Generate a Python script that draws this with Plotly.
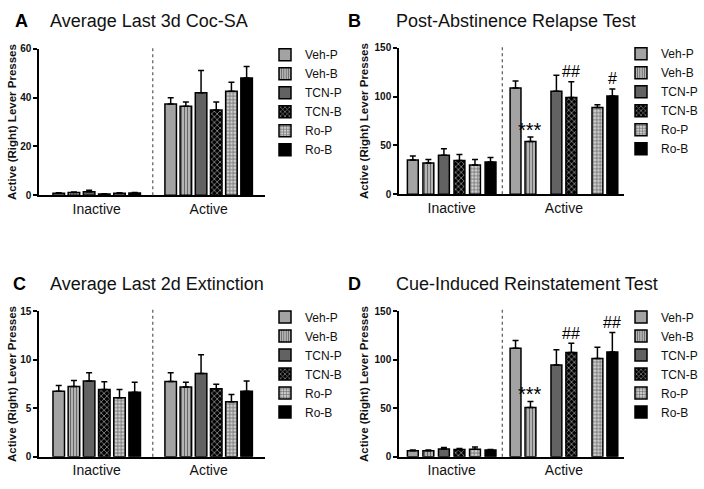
import plotly.graph_objects as go

# ---------------- data ----------------
groups = ["Inactive", "Active"]
series = ["Veh-P", "Veh-B", "TCN-P", "TCN-B", "Ro-P", "Ro-B"]

a_title = "Average Last 3d Coc-SA"
a_inactive = [0.8, 1.1, 1.4, 0.5, 0.8, 0.9]
a_inactive_err = [0.2, 0.2, 0.6, 0.1, 0.2, 0.2]
a_active = [37.4, 36.5, 42.0, 35.0, 42.6, 48.1]
a_active_err = [2.6, 1.7, 9.1, 3.2, 3.7, 4.7]
a_ticks = [0, 20, 40, 60]

b_title = "Post-Abstinence Relapse Test"
b_inactive = [35.0, 32.0, 40.0, 34.7, 30.0, 33.0]
b_inactive_err = [4.3, 3.7, 6.7, 6.0, 5.7, 4.7]
b_active = [109.0, 54.0, 105.7, 99.3, 89.0, 100.7]
b_active_err = [7.0, 4.7, 16.3, 16.0, 2.7, 7.3]
b_sig = ["", "***", "", "##", "", "#"]
b_ticks = [0, 50, 100, 150]

c_title = "Average Last 2d Extinction"
c_inactive = [6.75, 7.25, 7.82, 6.92, 6.08, 6.65]
c_inactive_err = [0.6, 0.6, 0.83, 0.8, 0.84, 1.03]
c_active = [7.75, 7.18, 8.59, 7.02, 5.68, 6.75]
c_active_err = [0.9, 0.5, 1.93, 0.46, 0.73, 1.07]
c_ticks = [0, 5, 10, 15]

d_title = "Cue-Induced Reinstatement Test"
d_inactive = [6.0, 6.2, 8.0, 7.3, 7.6, 6.8]
d_inactive_err = [1.0, 0.8, 1.5, 1.2, 2.4, 0.7]
d_active = [112.0, 50.7, 94.6, 107.4, 101.3, 108.0]
d_active_err = [7.8, 6.3, 15.8, 9.6, 11.5, 20.2]
d_sig = ["", "***", "", "##", "", "##"]
d_ticks = [0, 50, 100, 150]

y_title = "Active (Right) Lever Presses"

# ---------------- styles ----------------
FONT = "Liberation Sans, Arial, sans-serif"
W, H = 704, 489

styles = [
    dict(color="#a3a3a3"),
    dict(color="#b4b4b4", pattern=dict(shape="|", fgcolor="#1a1a1a", bgcolor="#b4b4b4", size=3, solidity=0.35)),
    dict(color="#626262"),
    dict(color="#000000", pattern=dict(shape="x", fgcolor="#ffffff", bgcolor="#000000", size=4, solidity=0.4)),
    dict(color="#d0d0d0", pattern=dict(shape="+", fgcolor="#1a1a1a", bgcolor="#d0d0d0", size=3.5, solidity=0.45)),
    dict(color="#000000"),
]


def even_positions():
    inact = [-2.5 + i for i in range(6)]
    act = [7.37 - 2.5 + i for i in range(6)]
    return inact, act, 7.37, 3.69


def paired_positions():
    inact = [-2.5 + i for i in range(6)]
    centers = [4.59, 7.22, 9.86]
    act = []
    for c in centers:
        act += [c - 0.48, c + 0.48]
    return inact, act, 7.22, 3.26


panels = [
    dict(key="", title=a_title, letter="A", ina=a_inactive, ina_e=a_inactive_err, act=a_active, act_e=a_active_err,
         sig=None, ticks=a_ticks, pos=even_positions(), xr=[-3.8, 11.08], bw=0.76,
         xd=[39, 265], yd=[194, 44], title_y=15, letter_x=13, title_x=48, ytitle_x=12,
         leg=(265, 35)),
    dict(key="2", title=b_title, letter="B", ina=b_inactive, ina_e=b_inactive_err, act=b_active, act_e=b_active_err,
         sig=b_sig, ticks=b_ticks, pos=paired_positions(), xr=[-3.39, 11.09], bw=0.70,
         xd=[399, 624], yd=[193, 43], title_y=15, letter_x=346, title_x=394, ytitle_x=364,
         leg=(621, 34)),
    dict(key="3", title=c_title, letter="C", ina=c_inactive, ina_e=c_inactive_err, act=c_active, act_e=c_active_err,
         sig=None, ticks=c_ticks, pos=even_positions(), xr=[-3.8, 11.08], bw=0.76,
         xd=[39, 265], yd=[462, 313], title_y=285, letter_x=11, title_x=48, ytitle_x=12,
         leg=(265, 304)),
    dict(key="4", title=d_title, letter="D", ina=d_inactive, ina_e=d_inactive_err, act=d_active, act_e=d_active_err,
         sig=d_sig, ticks=d_ticks, pos=paired_positions(), xr=[-3.39, 11.09], bw=0.70,
         xd=[399, 624], yd=[462, 313], title_y=285, letter_x=346, title_x=394, ytitle_x=364,
         leg=(621, 304)),
]

fig = go.Figure()
annotations = []
shapes = []
layout = {}

for p in panels:
    k = p["key"]
    xa, ya = "x" + k, "y" + k
    legname = "legend" + k
    inact_pos, act_pos, act_center, divider = p["pos"]
    for i, name in enumerate(series):
        st = styles[i]
        marker = dict(color=st["color"], line=dict(color="black", width=1.5))
        if "pattern" in st:
            marker["pattern"] = st["pattern"]
        fig.add_trace(go.Bar(
            x=[inact_pos[i], act_pos[i]],
            y=[p["ina"][i], p["act"][i]],
            width=p["bw"],
            name=name,
            marker=marker,
            error_y=dict(type="data", symmetric=False, array=[p["ina_e"][i], p["act_e"][i]],
                         arrayminus=[0, 0], color="black", thickness=1.5, width=3),
            xaxis=xa, yaxis=ya, legend=legname, showlegend=True,
        ))
        if p["sig"] and p["sig"][i]:
            lab = p["sig"][i]
            star = "*" in lab
            annotations.append(dict(
                x=act_pos[i], y=p["act"][i] + p["act_e"][i], xref=xa, yref=ya,
                text=lab, showarrow=False, yanchor="middle", xanchor="center",
                yshift=7 if star else 10,
                font=dict(family=FONT, size=20 if star else 16, color="black"),
            ))

    ymax = p["ticks"][-1]
    layout["xaxis" + k] = dict(
        domain=[p["xd"][0] / W, p["xd"][1] / W], range=p["xr"], anchor=ya,
        showline=True, linecolor="black", linewidth=1.5, ticks="",
        tickvals=[0, act_center], ticktext=groups, ticklabelstandoff=0,
        tickfont=dict(family=FONT, size=14, color="#111"),
        showgrid=False, zeroline=False, fixedrange=True,
    )
    layout["yaxis" + k] = dict(
        domain=[1 - p["yd"][0] / H, 1 - p["yd"][1] / H], range=[0, ymax], anchor=xa,
        showline=True, linecolor="black", linewidth=1.5, ticks="outside", ticklen=4,
        tickwidth=1.5, tickcolor="black", tickvals=p["ticks"],
        tickfont=dict(family=FONT, size=10, color="#111", weight="bold"),
        showgrid=False, zeroline=False, fixedrange=True,
    )
    layout[legname] = dict(
        x=p["leg"][0] / W, y=1 - p["leg"][1] / H, xanchor="left", yanchor="top",
        font=dict(family=FONT, size=12, color="#111"), bgcolor="rgba(0,0,0,0)",
        tracegroupgap=0, itemclick=False, itemdoubleclick=False,
    )
    shapes.append(dict(
        type="line", xref=xa, yref=ya + " domain", x0=divider, x1=divider, y0=0, y1=1.02,
        line=dict(color="#666", width=1.3, dash="dot"),
    ))
    # panel letter and title
    annotations.append(dict(
        x=p["letter_x"] / W, y=1 - p["title_y"] / H, xref="paper", yref="paper",
        text="<b>" + p["letter"] + "</b>", showarrow=False, xanchor="left", yanchor="middle",
        font=dict(family=FONT, size=18, color="black"),
    ))
    annotations.append(dict(
        x=p["title_x"] / W, y=1 - p["title_y"] / H, xref="paper", yref="paper",
        text=p["title"], showarrow=False, xanchor="left", yanchor="middle",
        font=dict(family=FONT, size=18, color="#111"),
    ))
    annotations.append(dict(
        x=p["ytitle_x"] / W, y=1 - (p["yd"][0] + p["yd"][1]) / 2 / H, xref="paper", yref="paper",
        text="<b>" + y_title + "</b>", showarrow=False, textangle=-90,
        xanchor="center", yanchor="middle",
        font=dict(family=FONT, size=11.5, color="#111"),
    ))

fig.update_layout(
    width=W, height=H, margin=dict(l=0, r=0, t=0, b=0),
    paper_bgcolor="white", plot_bgcolor="white",
    barmode="overlay", annotations=annotations, shapes=shapes,
    **layout,
)

fig.write_html(
    "out.html",
    config={"displayModeBar": False},
    post_script="document.body.style.margin='0';document.body.style.padding='0';"
                "document.body.style.overflow='hidden';",
)
